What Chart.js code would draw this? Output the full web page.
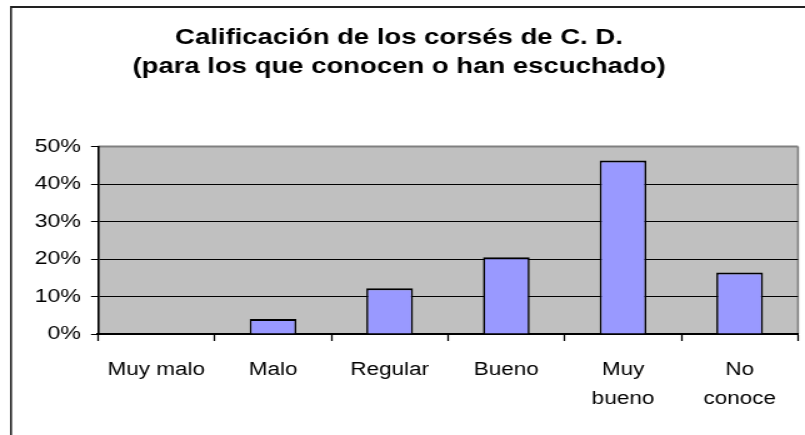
<!DOCTYPE html>
<html>
<head>
<meta charset="utf-8">
<script src="https://cdn.jsdelivr.net/npm/chart.js@4/dist/chart.umd.min.js"></script>
<style>
    html, body { margin: 0; padding: 0; background: #fff; overflow: hidden; }
    canvas { display: block; }
</style>
</head>
<body>
<!-- Le canevas est étiré horizontalement (644 -> 805) comme l'image d'origine -->
<canvas id="chart" width="644" height="435" style="width:805px;height:435px"></canvas>
<script>
// Données du graphique
const categories = ['Muy malo', 'Malo', 'Regular', 'Bueno', ['Muy', 'bueno'], ['No', 'conoce']];
const valores = [0, 4.0, 12.2, 20.5, 46.3, 16.4];
const tituloLineas = ['Calificación de los corsés de C. D.', '(para los que conocen o han escuchado)'];
const yMax = 50;
const yPaso = 10;

// Facteur d'étirement horizontal
const K = 1.25;

// Fond gris de la zone de tracé + cadre extérieur
const fondPlugin = {
    id: 'fondPlugin',
    beforeDraw(chart) {
        const ctx = chart.ctx;
        const a = chart.chartArea;
        ctx.save();
        ctx.fillStyle = '#fff';
        ctx.fillRect(0, 0, chart.width, chart.height);
        // cadre extérieur (haut + gauche)
        ctx.strokeStyle = '#222';
        ctx.lineWidth = 2 / K;
        ctx.beginPath();
        ctx.moveTo(11 / K, 7);
        ctx.lineTo(11 / K, chart.height);
        ctx.stroke();
        ctx.lineWidth = 2;
        ctx.beginPath();
        ctx.moveTo(10 / K, 7);
        ctx.lineTo(chart.width, 7);
        ctx.stroke();
        // zone de tracé
        ctx.fillStyle = '#c0c0c0';
        ctx.fillRect(a.left, a.top, a.right - a.left, a.bottom - a.top);
        ctx.strokeStyle = '#808080';
        ctx.lineWidth = 2;
        ctx.beginPath();
        ctx.moveTo(a.left, a.top);
        ctx.lineTo(a.right, a.top);
        ctx.stroke();
        ctx.lineWidth = 2 / K;
        ctx.beginPath();
        ctx.moveTo(a.right, a.top);
        ctx.lineTo(a.right, a.bottom);
        ctx.stroke();
        ctx.restore();
    }
};

Chart.defaults.font.family = '"Liberation Sans", Arial, sans-serif';
Chart.defaults.color = '#000';

new Chart(document.getElementById('chart').getContext('2d'), {
    type: 'bar',
    data: {
        labels: categories,
        datasets: [{
            data: valores,
            backgroundColor: '#9999ff',
            borderColor: '#000',
            borderWidth: { top: 2, left: 2 / K, right: 2 / K, bottom: 0 },
            borderSkipped: 'start',
            barPercentage: 0.4,
            categoryPercentage: 1
        }]
    },
    options: {
        responsive: false,
        animation: false,
        devicePixelRatio: 1,
        layout: { padding: { left: 0, right: 644 - 798 / K, top: 0, bottom: 0 } },
        plugins: {
            legend: { display: false },
            tooltip: { enabled: false },
            title: {
                display: true,
                text: tituloLineas,
                font: { size: 22, weight: 'bold', lineHeight: 1.33 },
                padding: { top: 23, bottom: 65 },
                color: '#000'
            }
        },
        scales: {
            x: {
                grid: {
                    offset: true,
                    drawOnChartArea: false,
                    drawTicks: true,
                    tickLength: 7,
                    tickWidth: 1.6 / K,
                    color: '#000'
                },
                border: { color: '#000', width: 2 },
                ticks: {
                    font: { size: 18, lineHeight: 1.6 },
                    padding: 15,
                    maxRotation: 0,
                    autoSkip: false
                },
                afterFit(scale) { scale.height = 101; }
            },
            y: {
                min: 0,
                max: yMax,
                ticks: {
                    stepSize: yPaso,
                    font: { size: 18.5 },
                    padding: 10 / K,
                    callback: v => v + '%'
                },
                grid: {
                    color: ctx => (ctx.tick && ctx.tick.value === yMax) ? 'rgba(0,0,0,0)' : '#000',
                    tickColor: '#000',
                    tickLength: 7 / K,
                    lineWidth: 1
                },
                border: { color: '#000', width: 2 / K },
                afterFit(scale) { scale.width = 98 / K; }
            }
        }
    },
    plugins: [fondPlugin]
});
</script>
</body>
</html>
